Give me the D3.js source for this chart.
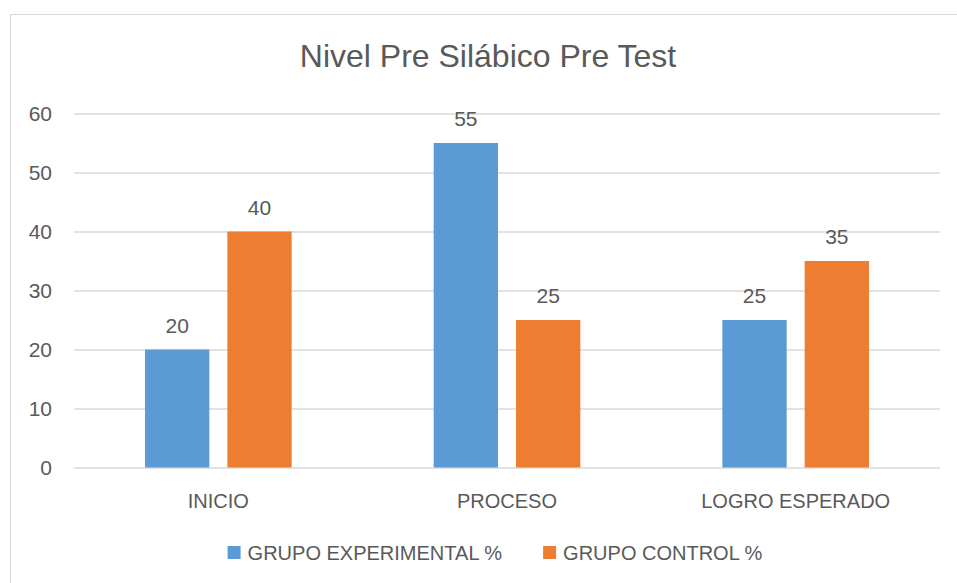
<!DOCTYPE html>
<html>
<head>
<meta charset="utf-8">
<script src="https://cdn.jsdelivr.net/npm/d3@7"></script>
<style>
  body { margin: 0; background: #fff; }
  svg text { font-family: "Liberation Sans", Arial, sans-serif; fill: #595959; }
</style>
</head>
<body>
<svg id="chart" width="957" height="583"></svg>
<script>
var categories = ["INICIO", "PROCESO", "LOGRO ESPERADO"];
var seriesNames = ["GRUPO EXPERIMENTAL %", "GRUPO CONTROL %"];
var experimental = [20, 55, 25];
var control = [40, 25, 35];
var yTicks = [0, 10, 20, 30, 40, 50, 60];
var colors = ["#5b9bd5", "#ed7d31"];

var margin = {top: 113.5, right: 17, bottom: 115.5, left: 74};
var width = 957 - margin.left - margin.right,
    height = 583 - margin.top - margin.bottom;

var svg = d3.select("#chart");

// chart border (cut off at right and bottom, like the reference)
svg.append("rect")
    .attr("x", 10.5)
    .attr("y", 14.5)
    .attr("width", 1000)
    .attr("height", 1000)
    .attr("fill", "none")
    .attr("stroke", "#d9d9d9");

svg.append("text")
    .attr("x", 488)
    .attr("y", 67)
    .attr("text-anchor", "middle")
    .style("font-size", "32px")
    .text("Nivel Pre Silábico Pre Test");

var g = svg.append("g")
    .attr("transform", "translate(" + margin.left + "," + margin.top + ")");

var y = d3.scaleLinear()
    .domain([0, 60])
    .range([height, 0]);

var x0 = d3.scaleBand()
    .domain(categories)
    .range([0, width])
    .paddingInner(0.492)
    .paddingOuter(0.246);

var x1 = d3.scaleBand()
    .domain([0, 1])
    .range([0, x0.bandwidth()])
    .paddingInner(0.219);

// gridlines
g.append("g")
  .selectAll("line")
  .data(yTicks)
  .join("line")
    .attr("x1", 0)
    .attr("x2", width)
    .attr("y1", function(d) { return Math.round(y(d)) + 0.5; })
    .attr("y2", function(d) { return Math.round(y(d)) + 0.5; })
    .attr("stroke", "#d9d9d9")
    .attr("stroke-width", 1.3);

// y axis labels
var yAxis = g.append("g")
    .attr("transform", "translate(-22,0)")
    .call(d3.axisLeft(y).tickValues(yTicks).tickSize(0).tickPadding(0));
yAxis.select(".domain").remove();
yAxis.selectAll("text")
    .style("font-size", "21px")
    .attr("fill", "#595959")
    .attr("font-family", null);

// x axis labels
var xAxis = g.append("g")
    .attr("transform", "translate(0," + height + ")")
    .call(d3.axisBottom(x0).tickSize(0).tickPadding(0));
xAxis.select(".domain").remove();
xAxis.selectAll("text")
    .style("font-size", "20px")
    .attr("fill", "#595959")
    .attr("font-family", null)
    .attr("dy", null)
    .attr("y", 40);

var rows = categories.map(function(c, i) {
  return {cat: c, values: [experimental[i], control[i]]};
});

var groups = g.selectAll(".cat")
  .data(rows)
  .join("g")
    .attr("class", "cat")
    .attr("transform", function(d) { return "translate(" + x0(d.cat) + ",0)"; });

groups.selectAll("rect")
  .data(function(d) { return d.values.map(function(v, j) { return {j: j, v: v}; }); })
  .join("rect")
    .attr("x", function(d) { return x1(d.j); })
    .attr("y", function(d) { return y(d.v); })
    .attr("width", x1.bandwidth())
    .attr("height", function(d) { return height - y(d.v); })
    .attr("fill", function(d) { return colors[d.j]; });

groups.selectAll("text.lbl")
  .data(function(d) { return d.values.map(function(v, j) { return {j: j, v: v}; }); })
  .join("text")
    .attr("class", "lbl")
    .attr("x", function(d) { return x1(d.j) + x1.bandwidth() / 2; })
    .attr("y", function(d) { return y(d.v) - 17; })
    .attr("text-anchor", "middle")
    .style("font-size", "21px")
    .text(function(d) { return d.v; });

// legend, centred under the chart
var legend = svg.append("g");
var items = legend.selectAll("g")
  .data(seriesNames)
  .join("g");
items.append("rect")
    .attr("y", 546)
    .attr("width", 13)
    .attr("height", 13)
    .attr("fill", function(d, i) { return colors[i]; });
items.append("text")
    .attr("x", 20)
    .attr("y", 560)
    .style("font-size", "20px")
    .text(function(d) { return d; });

var pos = 0;
items.each(function() {
  d3.select(this).attr("transform", "translate(" + pos + ",0)");
  pos += 20 + d3.select(this).select("text").node().getComputedTextLength() + 41;
});
var legendWidth = pos - 41;
legend.attr("transform", "translate(" + (495 - legendWidth / 2) + ",0)");
</script>
</body>
</html>
